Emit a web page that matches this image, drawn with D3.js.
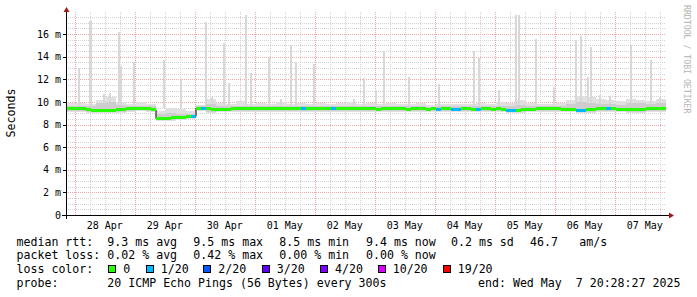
<!DOCTYPE html>
<html><head><meta charset="utf-8">
<script src="https://cdn.jsdelivr.net/npm/d3@7"></script>
<style>
body{margin:0;background:#fff}
svg{display:block}
text{font-family:"DejaVu Sans Mono",monospace;fill:#000;white-space:pre}
</style>
</head><body>
<svg id="c" width="697" height="297"></svg>
<script>
// ---------- data ----------
const startTime = Date.UTC(2025, 3, 27, 20, 28, 27);
const endTime   = Date.UTC(2025, 4, 7, 20, 28, 27);

// median rtt (ms), one value per 2 h
const medianStepHours = 2;
const median = [
  9.40, 9.40, 9.40, 9.38, 9.32, 9.28, 9.22, 9.20, 9.22, 9.24,
  9.30, 9.34, 9.38, 9.40, 9.42, 9.40, 9.38, 9.30, 8.50, 8.52,
  8.55, 8.58, 8.62, 8.65, 8.68, 8.72, 9.45, 9.45, 9.38, 9.35,
  9.33, 9.33, 9.35, 9.38, 9.40, 9.42, 9.42, 9.40, 9.40, 9.38,
  9.40, 9.40, 9.42, 9.40, 9.40, 9.38, 9.40, 9.38, 9.40, 9.40,
  9.42, 9.40, 9.40, 9.38, 9.40, 9.40, 9.38, 9.38, 9.38, 9.38,
  9.40, 9.38, 9.36, 9.38, 9.38, 9.40, 9.38, 9.38, 9.36, 9.38,
  9.38, 9.38, 9.36, 9.38, 9.36, 9.38, 9.38, 9.36, 9.36, 9.38,
  9.38, 9.36, 9.36, 9.38, 9.38, 9.36, 9.38, 9.33, 9.22, 9.20,
  9.25, 9.30, 9.34, 9.37, 9.38, 9.38, 9.40, 9.38, 9.38, 9.36,
  9.36, 9.33, 9.28, 9.28, 9.32, 9.35, 9.40, 9.42, 9.40, 9.38,
  9.36, 9.35, 9.34, 9.30, 9.32, 9.36, 9.38, 9.40, 9.42, 9.42
];
// lost pings out of 20, per 2 h
const lossCount = [
  0,0,0,0,0,0,0,0,0,0, 0,0,0,0,0,0,0,0,0,0,
  0,0,0,0,0,1,0,1,0,0, 0,0,0,0,0,0,0,0,0,0,
  0,0,0,0,0,0,0,1,0,0, 0,0,0,1,0,0,0,0,0,0,
  0,0,0,0,0,0,0,0,0,0, 0,0,0,0,1,0,0,1,1,0,
  0,0,1,0,0,0,0,0,1,1, 0,0,0,0,0,0,0,0,0,0,
  0,0,1,1,0,0,0,0,1,0, 0,0,0,0,0,0,0,0,0,0
];

// smoke (ping spread, ms), one value per 4 h
const smokeStepHours = 4;
const smokeLo = [
  9.15, 9.10, 9.05, 9.05, 9.00, 9.05, 9.15, 9.20, 9.15, 8.35,
  8.35, 8.40, 8.45, 9.20, 9.05, 9.10, 9.15, 9.15, 9.15, 9.15,
  9.15, 9.15, 9.15, 9.15, 9.15, 9.15, 9.15, 9.15, 9.15, 9.15,
  9.15, 9.15, 9.15, 9.15, 9.15, 9.15, 9.15, 9.15, 9.10, 9.10,
  9.15, 9.10, 9.15, 9.10, 9.00, 9.05, 9.10, 9.15, 9.15, 9.10,
  9.10, 9.00, 9.05, 9.10, 9.10, 9.10, 9.00, 9.00, 9.10, 9.10
];
const smokeMid = [
  9.60, 9.60, 9.60, 9.90, 10.0, 9.70, 9.60, 9.65, 9.60, 8.90,
  9.00, 8.95, 8.95, 9.60, 9.80, 9.60, 9.60, 9.60, 9.60, 9.60,
  9.60, 9.60, 9.60, 9.60, 9.60, 9.60, 9.60, 9.60, 9.60, 9.60,
  9.60, 9.60, 9.60, 9.60, 9.60, 9.60, 9.55, 9.60, 9.60, 9.60,
  9.60, 9.60, 9.60, 9.60, 9.60, 9.70, 9.60, 9.60, 9.60, 9.60,
  9.80, 10.0, 9.90, 9.80, 9.80, 9.70, 9.90, 9.90, 9.80, 9.90
];
const smokeHi = [
  9.90, 9.90, 9.80, 10.2, 10.4, 10.0, 9.80, 10.0, 9.80, 9.20,
  9.50, 9.40, 9.20, 9.70, 10.3, 9.90, 9.80, 10.1, 9.80, 9.90,
  9.80, 10.0, 9.80, 9.90, 9.80, 9.90, 9.80, 9.90, 10.0, 9.80,
  9.90, 9.80, 9.90, 9.80, 9.80, 9.90, 9.70, 9.80, 9.80, 9.80,
  9.80, 9.90, 9.80, 10.0, 9.90, 10.2, 9.90, 9.80, 9.80, 9.90,
  10.2, 10.5, 10.4, 10.3, 10.2, 10.1, 10.3, 10.2, 10.1, 10.3
];
// isolated slow pings: hours after start, top value (ms)
const spikeHours = [
  5.2, 9.8, 15.2, 17.6, 21.2, 22.0, 27.2, 39.2, 46.0, 56.0,
  58.4, 63.2, 65.2, 72.0, 74.0, 81.2, 86.0, 90.0, 92.0, 99.2,
  115.2, 119.2, 124.0, 127.2, 137.2, 149.2, 163.2, 165.2, 173.2, 180.0,
  181.2, 188.0, 195.2, 204.0, 206.0, 208.8, 210.0, 213.6, 217.6, 226.0,
  234.0, 237.6
];
const spikeTops = [
  13.0, 17.2, 10.7, 10.8, 16.2, 13.2, 13.5, 13.7, 12.0, 17.1,
  10.4, 15.2, 11.7, 17.7, 12.6, 14.0, 10.3, 15.0, 13.5, 13.4,
  10.3, 12.1, 11.1, 14.5, 12.2, 11.6, 14.5, 13.9, 11.1, 17.7,
  17.7, 15.6, 11.3, 15.5, 15.8, 12.2, 14.9, 10.6, 10.5, 15.0,
  13.7, 10.4
];

const yTicks = [0, 2, 4, 6, 8, 10, 12, 14, 16];
const yTickLabels = ["0", "2 m", "4 m", "6 m", "8 m", "10 m", "12 m", "14 m", "16 m"];

const lossLevels = [0, 1, 2, 3, 4, 10, 19];
const lossLabels = ["0", "1/20", "2/20", "3/20", "4/20", "10/20", "19/20"];
const lossColors = ["#26ff00", "#00b8ff", "#0059ff", "#5e00ff", "#7e00ff", "#dd00ff", "#ff0000"];

const rttRow  = ["median rtt:", "9.3 ms avg", "9.5 ms max", "8.5 ms min", "9.4 ms now", "0.2 ms sd", "46.7", "am/s"];
const lossRow = ["packet loss:", "0.02 % avg", "0.42 % max", "0.00 % min", "0.00 % now"];
const probeRow = ["probe:", "20 ICMP Echo Pings (56 Bytes) every 300s", "end: Wed May  7 20:28:27 2025"];

// ---------- drawing ----------
const svg = d3.select("#c");
const HOUR = 3600e3;
const X0 = 66, X1 = 666, Y0 = 215, YT = 11.5;
const x = d3.scaleUtc().domain([startTime, endTime]).range([X0, X1]);
const y = d3.scaleLinear().domain([0, 18]).range([Y0, YT]);
const crisp = v => Math.round(v) + 0.5;

svg.append("rect").attr("width", 697).attr("height", 297).attr("fill", "#fff");

// grid
const grid = svg.append("g").attr("shape-rendering", "crispEdges");
const minorY = d3.range(0.5, 18, 0.5).filter(v => v % 2 !== 0);
grid.selectAll(".hm").data(minorY).join("line")
  .attr("x1", X0).attr("x2", X1)
  .attr("y1", d => crisp(y(d))).attr("y2", d => crisp(y(d)))
  .attr("stroke", "#d2d2d2").attr("stroke-dasharray", "1,1");
const minorX = d3.utcHour.every(6).range(new Date(startTime), new Date(endTime))
  .filter(d => d.getUTCHours() !== 0);
grid.selectAll(".vm").data(minorX).join("line")
  .attr("x1", d => crisp(x(d))).attr("x2", d => crisp(x(d)))
  .attr("y1", Y0).attr("y2", 12)
  .attr("stroke", "#d2d2d2").attr("stroke-dasharray", "1,1");
grid.selectAll(".hM").data(yTicks.filter(v => v > 0)).join("line")
  .attr("x1", X0).attr("x2", X1)
  .attr("y1", d => crisp(y(d))).attr("y2", d => crisp(y(d)))
  .attr("stroke", "#f0a8a8").attr("stroke-dasharray", "1,1");
const days = d3.utcDay.range(new Date(startTime), new Date(endTime));
grid.selectAll(".vM").data(days).join("line")
  .attr("x1", d => crisp(x(d))).attr("x2", d => crisp(x(d)))
  .attr("y1", Y0).attr("y2", 12)
  .attr("stroke", "#f0a8a8").attr("stroke-dasharray", "1,1");

// smoke
const smoke = svg.append("g").attr("shape-rendering", "crispEdges");
const sx = i => x(startTime + i * smokeStepHours * HOUR);
smoke.selectAll(".sl").data(smokeHi).join("rect")
  .attr("x", (d, i) => sx(i)).attr("width", (d, i) => sx(i + 1) - sx(i) + 0.3)
  .attr("y", d => y(d)).attr("height", (d, i) => y(smokeLo[i]) - y(d))
  .attr("fill", "#e0e0e0");
smoke.selectAll(".sp").data(spikeHours).join("rect")
  .attr("x", d => x(startTime + d * HOUR) - 1.2).attr("width", 2.6)
  .attr("y", (d, i) => y(spikeTops[i])).attr("height", (d, i) => y(9.5) - y(spikeTops[i]))
  .attr("fill", "#d8d8d8");
smoke.selectAll(".sm").data(smokeMid).join("rect")
  .attr("x", (d, i) => sx(i)).attr("width", (d, i) => sx(i + 1) - sx(i) + 0.3)
  .attr("y", d => y(d)).attr("height", (d, i) => Math.max(0, y(smokeLo[i]) - y(d) - 1))
  .attr("fill", "#cdcdcd");

// median: thin black step line, then loss-coloured thick segments
const mx = i => x(startTime + i * medianStepHours * HOUR);
const stepLine = d3.line().x((d, i) => mx(i)).y(d => y(d)).curve(d3.curveStepAfter);
svg.append("path").datum(median.concat([median[median.length - 1]]))
  .attr("d", stepLine).attr("fill", "none").attr("stroke", "#000").attr("stroke-width", 1);
const lossColor = c => {
  let k = 0;
  lossLevels.forEach((l, j) => { if (c >= l) k = j; });
  return lossColors[k];
};
svg.append("g").attr("shape-rendering", "crispEdges")
  .selectAll("rect").data(median).join("rect")
  .attr("x", (d, i) => mx(i)).attr("width", (d, i) => mx(i + 1) - mx(i) + 0.2)
  .attr("y", d => y(d) - 1.5).attr("height", 3)
  .attr("fill", (d, i) => lossColor(lossCount[i]));

// axes
const ax = svg.append("g").attr("shape-rendering", "crispEdges");
ax.append("line").attr("x1", 62).attr("x2", 669).attr("y1", Y0 + 0.5).attr("y2", Y0 + 0.5).attr("stroke", "#000");
ax.append("line").attr("x1", X0 + 0.5).attr("x2", X0 + 0.5).attr("y1", 219).attr("y2", 11).attr("stroke", "#000");
ax.selectAll(".yt").data(yTicks).join("line")
  .attr("x1", 63).attr("x2", X0).attr("y1", d => crisp(y(d))).attr("y2", d => crisp(y(d)))
  .attr("stroke", "#000");
svg.append("path").attr("d", `M669,212.5 L674,215.5 L669,218.5 Z`).attr("fill", "#a01818");
svg.append("path").attr("d", `M63.5,12 L66.5,7 L69.5,12 Z`).attr("fill", "#a01818");

// y tick labels
svg.selectAll(".yl").data(yTicks).join("text")
  .attr("x", 61).attr("y", d => y(d)).attr("dy", "0.36em")
  .attr("text-anchor", "end").attr("font-size", 10)
  .text((d, i) => yTickLabels[i]);

// x tick labels at noon
const noons = days.map(d => new Date(+d + 12 * HOUR)).filter(d => +d < endTime);
const fmt = d3.utcFormat("%d %b");
svg.selectAll(".xl").data(noons).join("text")
  .attr("x", d => x(d)).attr("y", 228.5)
  .attr("text-anchor", "middle").attr("font-size", 10)
  .text(d => fmt(d));

// titles
svg.append("text").attr("transform", "translate(14.5,113) rotate(-90)")
  .attr("text-anchor", "middle").attr("font-size", 11.6).text("Seconds");
svg.append("text").attr("transform", "translate(684,5) rotate(90)")
  .attr("font-size", 8.2).style("fill", "#b4b4b4").text("RRDTOOL / TOBI OETIKER");

// legend
const LF = 11.6;
const rowX1 = [16.5, 107.3, 193.3, 279.3, 366, 451, 530, 579.3];
svg.selectAll(".r1").data(rttRow).join("text")
  .attr("x", (d, i) => rowX1[i]).attr("y", 245.5).attr("font-size", LF).text(d => d);
svg.selectAll(".r2").data(lossRow).join("text")
  .attr("x", (d, i) => rowX1[i]).attr("y", 259).attr("font-size", LF).text(d => d);
svg.append("text").attr("x", 16.5).attr("y", 273).attr("font-size", LF).text("loss color:");
const boxX = [108.3, 145.7, 203.3, 261.7, 320, 377.7, 442.7];
const lg = svg.append("g");
lg.selectAll("rect").data(lossColors).join("rect")
  .attr("x", (d, i) => Math.round(boxX[i]) + 0.5).attr("y", 265.5).attr("width", 7).attr("height", 7)
  .attr("fill", d => d).attr("stroke", "#000").attr("shape-rendering", "crispEdges");
lg.selectAll("text").data(lossLabels).join("text")
  .attr("x", (d, i) => boxX[i] + 15).attr("y", 273).attr("font-size", LF).text(d => d);
const rowX4 = [16.5, 107.3, 478];
svg.selectAll(".r4").data(probeRow).join("text")
  .attr("x", (d, i) => rowX4[i]).attr("y", 287).attr("font-size", LF).text(d => d);
</script>
</body></html>
